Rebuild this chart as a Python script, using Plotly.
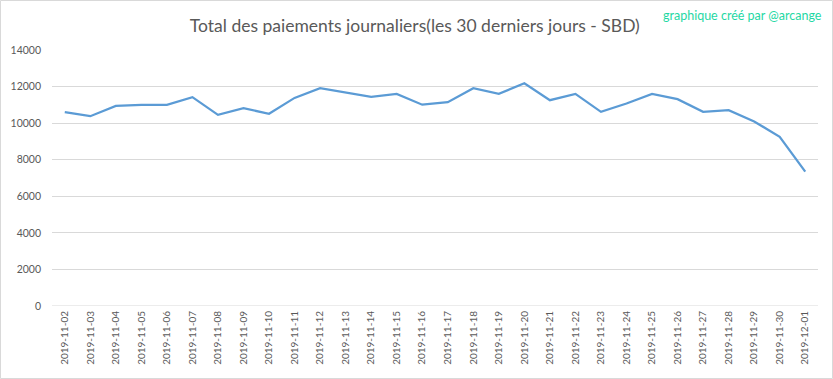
import plotly.graph_objects as go

dates = ["2019-11-02", "2019-11-03", "2019-11-04", "2019-11-05", "2019-11-06",
         "2019-11-07", "2019-11-08", "2019-11-09", "2019-11-10", "2019-11-11",
         "2019-11-12", "2019-11-13", "2019-11-14", "2019-11-15", "2019-11-16",
         "2019-11-17", "2019-11-18", "2019-11-19", "2019-11-20", "2019-11-21",
         "2019-11-22", "2019-11-23", "2019-11-24", "2019-11-25", "2019-11-26",
         "2019-11-27", "2019-11-28", "2019-11-29", "2019-11-30", "2019-12-01"]
payments = [10600, 10380, 10945, 11000, 11000, 11420, 10455, 10820, 10510, 11380,
            11910, 11690, 11440, 11600, 11010, 11145, 11910, 11600, 12180, 11255,
            11600, 10620, 11075, 11600, 11310, 10620, 10710, 10090, 9255, 7345]
y_ticks = [0, 2000, 4000, 6000, 8000, 10000, 12000, 14000]
y_tick_labels = ["0", "2000", "4000", "6000", "8000", "10000", "12000", "14000"]

title_text = "Total des paiements journaliers(les 30 derniers jours - SBD)"
credit_text = "graphique créé par @arcange"

fig = go.Figure()
fig.add_trace(go.Scatter(
    x=dates, y=payments, mode="lines",
    line=dict(color="#5b9bd5", width=2.25),
    hoverinfo="x+y",
))

W, H = 833, 379
ml, mr, mt, mb = 52, 15, 50, 73
pw, ph = W - ml - mr, H - mt - mb

fig.update_layout(
    width=W, height=H,
    margin=dict(l=ml, r=mr, t=mt, b=mb, pad=0, autoexpand=False),
    paper_bgcolor="white", plot_bgcolor="white",
    showlegend=False,
    font=dict(family="Lato, Carlito, sans-serif", color="#595959"),
    title=dict(text=title_text, x=0.498, xanchor="center", y=1 - 26 / H, yanchor="middle",
               font=dict(size=17.5, color="#595959", family="Lato, sans-serif")),
    xaxis=dict(
        type="category", tickangle=-90, showgrid=False, zeroline=False,
        showline=False, ticks="", tickfont=dict(size=10, color="#595959"),
        range=[-0.5, len(dates) - 0.5], automargin=False, ticklabelstandoff=2,
    ),
    yaxis=dict(
        range=[0, 14000], tickvals=y_ticks, ticktext=y_tick_labels,
        showgrid=True, gridcolor="#d9d9d9",
        gridwidth=1, zeroline=False, showline=False, ticks="",
        tickfont=dict(size=10.5, color="#595959"), automargin=False,
        ticklabelstandoff=10,
    ),
    annotations=[dict(
        text=credit_text, xref="paper", yref="paper",
        x=(824 - ml) / pw, xanchor="right", y=1 + (mt - 15) / ph, yanchor="middle",
        showarrow=False, font=dict(size=12.5, color="#1fd8a4", family="Lato, sans-serif"),
    )],
    shapes=[
        dict(type="line", xref="paper", yref="y", x0=0, x1=1, y0=0, y1=0,
             line=dict(color="#d9d9d9", width=1), layer="below"),
        dict(type="rect", xref="paper", yref="paper",
             x0=(0.5 - ml) / pw, x1=(W - 0.5 - ml) / pw,
             y0=-(mb - 0.5) / ph, y1=1 + (mt - 0.5) / ph,
             line=dict(color="#d9d9d9", width=1)),
    ],
)

fig.write_html(
    "out.html",
    config={"displayModeBar": False},
    post_script="document.body.style.margin='0';document.body.style.overflow='hidden';",
)
